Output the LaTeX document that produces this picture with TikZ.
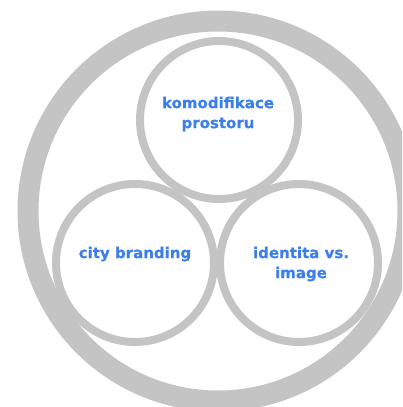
\documentclass[tikz,border=0pt]{standalone}
\usepackage{fontspec}
\setmainfont{DejaVu Sans}
\newfontfamily\lblfont[FakeBold=0.6]{DejaVu Sans Bold}
\definecolor{ringgray}{HTML}{C4C4C4}
\definecolor{txtblue}{HTML}{3D7FEA}
\begin{document}
\begin{tikzpicture}[x=1pt,y=-1pt,
  ring/.style={circle,draw=ringgray,line width=8pt,minimum size=158pt,inner sep=0pt},
  lbl/.style={text=txtblue,font=\lblfont\fontsize{15}{20}\selectfont,align=center}]
\useasboundingbox (0,0) rectangle (402,407);
\clip (0,0) rectangle (402,407);
\node[circle,draw=ringgray,line width=21pt,minimum size=380pt,inner sep=0pt] (outer) at (218,211) {};
\node[ring] (top) at (219,120) {};
\node[ring] (left) at (135,263) {};
\node[ring] (right) at (299,263) {};
\node[lbl] (t1) at (218,114) {komodifikace\\prostoru};
\node[lbl] (t2) at (135,254) {city branding};
\node[lbl] (t3) at (301,264) {identita vs.\\image};
\end{tikzpicture}
\end{document}
